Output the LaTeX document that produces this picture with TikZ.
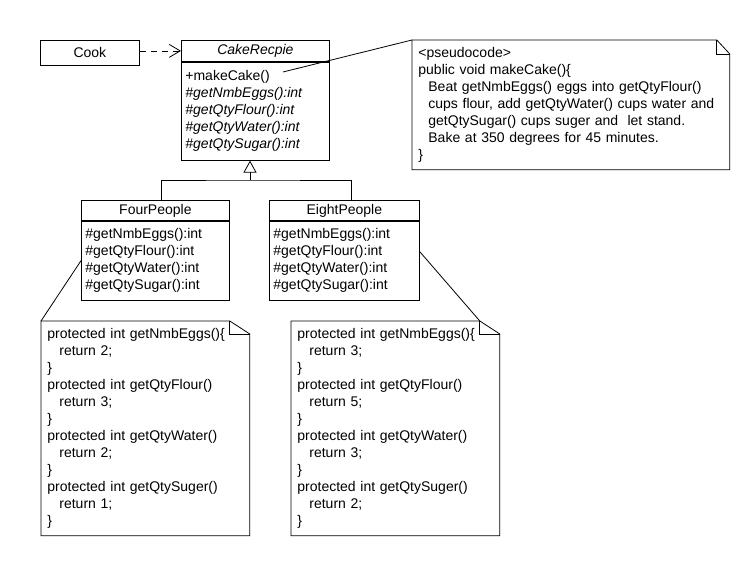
\documentclass[tikz,border=0pt]{standalone}
\usepackage{fontspec}
\setmainfont{Liberation Sans}
\usetikzlibrary{arrows.meta,calc}
\newcommand{\cind}[1][12pt]{\hspace*{#1}}
% outline of a UML note with a folded corner
\newcommand{\dogear}[3]{%
  \draw (#1.north west) -- ([xshift=-#2]#1.north east) coordinate (#1-fold)
    -- ([yshift=-#3]#1.north east) -- (#1.south east) -- (#1.south west) -- cycle;
  \draw (#1-fold) |- ([yshift=-#3]#1.north east);
}

\begin{document}
\begin{tikzpicture}[
  x=1pt, y=-1pt,
  font=\fontsize{14}{17}\selectfont,
  line width=0.8pt,
  box/.style={draw, anchor=north west, inner xsep=4pt, inner ysep=0pt, align=left},
  hdr/.style={box, align=center, minimum height=20pt},
  note/.style={anchor=north west, align=left, inner xsep=6pt, inner ysep=0pt},
  dep/.style={dash pattern=on 6pt off 5pt, -{Straight Barb[length=11pt,width=13pt]}},
  gen/.style={-{Triangle[open,length=12pt,width=13pt]}}
]
\useasboundingbox (0,0) rectangle (750,560);

\node[hdr, minimum width=99pt, minimum height=25pt] (cook) at (40,40) {Cook};

\node[hdr, minimum width=148pt, minimum height=21pt] (cakeH) at (181,40) {\textit{CakeRecpie}};
\node[box, text width=140pt, minimum height=98pt] (cake) at (cakeH.south west)
  {+makeCake()\\\textit{\#getNmbEggs():int}\\\textit{\#getQtyFlour():int}\\
   \textit{\#getQtyWater():int}\\\textit{\#getQtySugar():int}};
\coordinate (mc) at (283,72);

\node[hdr, minimum width=148pt] (fourH) at (81,200) {FourPeople};
\node[box, text width=140pt, minimum height=79pt] (four) at (fourH.south west)
  {\#getNmbEggs():int\\\#getQtyFlour():int\\\#getQtyWater():int\\\#getQtySugar():int};
\node[hdr, minimum width=150pt] (eightH) at (269,200) {EightPeople};
\node[box, text width=142pt, minimum height=79pt] (eight) at (eightH.south west)
  {\#getNmbEggs():int\\\#getQtyFlour():int\\\#getQtyWater():int\\\#getQtySugar():int};

\node[note, text width=305pt, minimum height=129pt] (pseudo) at (412,40)
  {<pseudocode>\\public void makeCake()\{\\
   \cind[10pt]Beat getNmbEggs() eggs into getQtyFlour()\\
   \cind[10pt]cups flour, add getQtyWater() cups water and\\
   \cind[10pt]getQtySugar() cups suger and\ \ let stand.\\
   \cind[10pt]Bake at 350 degrees for 45 minutes.\\\}};
\node[note, text width=196pt, minimum height=214pt] (fourCode) at (41,321)
  {protected int getNmbEggs()\{\\\cind return 2;\\\}\\
   protected int getQtyFlour()\\\cind return 3;\\\}\\
   protected int getQtyWater()\\\cind return 2;\\\}\\
   protected int getQtySuger()\\\cind return 1;\\\}};
\node[note, text width=196pt, minimum height=214pt] (eightCode) at (291,321)
  {protected int getNmbEggs()\{\\\cind return 3;\\\}\\
   protected int getQtyFlour()\\\cind return 5;\\\}\\
   protected int getQtyWater()\\\cind return 3;\\\}\\
   protected int getQtySuger()\\\cind return 2;\\\}};
\dogear{pseudo}{13pt}{14pt}
\dogear{fourCode}{20pt}{13pt}
\dogear{eightCode}{20pt}{13pt}

\draw[dep] (cook.east |- cakeH.west) -- (cakeH.west);

\coordinate (join) at (250,180);
\draw[gen] (join) -- (join |- cake.south);
\draw ($(fourH.north west)+(80,0)$) |- (join) -| ($(eightH.north west)+(82,0)$);

\draw (mc) -- (pseudo.north west);
\draw (four.west) -- (fourCode.north west);
\draw ([yshift=9pt]eight.east) -- (eightCode-fold);
\end{tikzpicture}
\end{document}
